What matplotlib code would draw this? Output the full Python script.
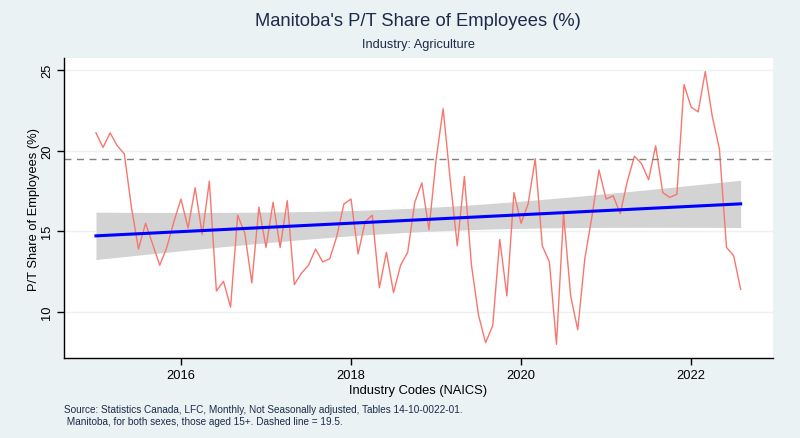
import numpy as np
import matplotlib.pyplot as plt

plt.rcParams['font.family'] = ['Liberation Sans', 'DejaVu Sans']

# monthly P/T share of employees, Manitoba agriculture, Jan 2015 - Aug 2022
share = [
    21.1, 20.2, 21.1, 20.3, 19.8, 16.5, 13.9, 15.5, 14.2, 12.9, 14.0, 15.6,
    17.0, 15.2, 17.7, 14.8, 18.1, 11.3, 11.9, 10.3, 16.0, 14.9, 11.8, 16.5,
    14.0, 16.8, 14.0, 16.9, 11.7, 12.4, 12.9, 13.9, 13.1, 13.3, 14.7, 16.7,
    17.0, 13.6, 15.6, 16.0, 11.5, 13.7, 11.2, 12.9, 13.7, 16.8, 18.0, 15.1,
    19.4, 22.6, 18.2, 14.1, 18.4, 12.9, 9.8, 8.1, 9.15, 14.5, 11.0, 17.4,
    15.5, 16.7, 19.5, 14.1, 13.1, 8.0, 16.1, 11.0, 8.9, 13.3, 15.9, 18.8,
    17.0, 17.2, 16.1, 18.1, 19.65, 19.2, 18.2, 20.3, 17.4, 17.1, 17.3, 24.1,
    22.7, 22.4, 24.9, 22.1, 20.1, 14.0, 13.5, 11.4,
]
start_year = 2015
threshold = 19.5
x_ticks = [2016, 2018, 2020, 2022]
y_ticks = [10, 15, 20, 25]

bg = "#EAF2F3"
navy = "#1C2B4B"

t = start_year + np.arange(len(share)) / 12.0
y = np.array(share)

# linear fit with 95% CI of the mean (like Stata's lfitci)
n = len(y)
b, a = np.polyfit(t, y, 1)
fit = a + b * t
resid = y - fit
s = np.sqrt(np.sum(resid ** 2) / (n - 2))
sxx = np.sum((t - t.mean()) ** 2)
se = s * np.sqrt(1.0 / n + (t - t.mean()) ** 2 / sxx)
tcrit = 1.987
lo = fit - tcrit * se
hi = fit + tcrit * se

fig = plt.figure(figsize=(8, 4.39), dpi=100, facecolor=bg)
ax = fig.add_axes([64 / 800, 1 - 359.3 / 439, (772.7 - 64) / 800, (359.3 - 59) / 439])
ax.set_facecolor("white")

for v in y_ticks:
    ax.axhline(v, color=bg, lw=1.0, zorder=0)

ax.fill_between(t, lo, hi, color="#D3D3D3", lw=0, zorder=1)
ax.plot(t, y, color="#F8766D", lw=1.0, zorder=2)
ax.plot(t, fit, color="#0000FF", lw=2.2, zorder=3)
ax.axhline(threshold, color="#808080", lw=1.0, ls=(0, (5, 4)), zorder=2)

ax.set_xlim(2014.624, 2022.96)
ax.set_ylim(7.13, 25.74)
ax.set_xticks(x_ticks)
ax.set_yticks(y_ticks)
ax.set_yticklabels([str(v) for v in y_ticks], rotation=90, va="center")
ax.tick_params(axis="both", direction="out", length=5, width=1, colors="black",
               labelsize=9.3, pad=3)

for side in ["top", "right"]:
    ax.spines[side].set_visible(False)
for side in ["left", "bottom"]:
    ax.spines[side].set_color("black")
    ax.spines[side].set_linewidth(1.0)

ax.set_xlabel("Industry Codes (NAICS)", fontsize=9.3, labelpad=2)
ax.set_ylabel("P/T Share of Employees (%)", fontsize=9.3)
ax.yaxis.set_label_coords(-0.034, 0.5)

cx = (64 + 772.7) / 2 / 800
fig.text(cx, 1 - 21 / 439, "Manitoba's P/T Share of Employees (%)", ha="center",
         va="center", fontsize=13.2, color=navy)
fig.text(cx, 1 - 45 / 439, "Industry: Agriculture", ha="center", va="center",
         fontsize=9.2, color=navy)
fig.text(64 / 800, 1 - 410 / 439,
         "Source: Statistics Canada, LFC, Monthly, Not Seasonally adjusted, Tables 14-10-0022-01.",
         ha="left", va="center", fontsize=7.2, color=navy)
fig.text(64 / 800, 1 - 422 / 439,
         " Manitoba, for both sexes, those aged 15+. Dashed line = 19.5.",
         ha="left", va="center", fontsize=7.2, color=navy)

fig.savefig("out.png", dpi=100, facecolor=bg)
